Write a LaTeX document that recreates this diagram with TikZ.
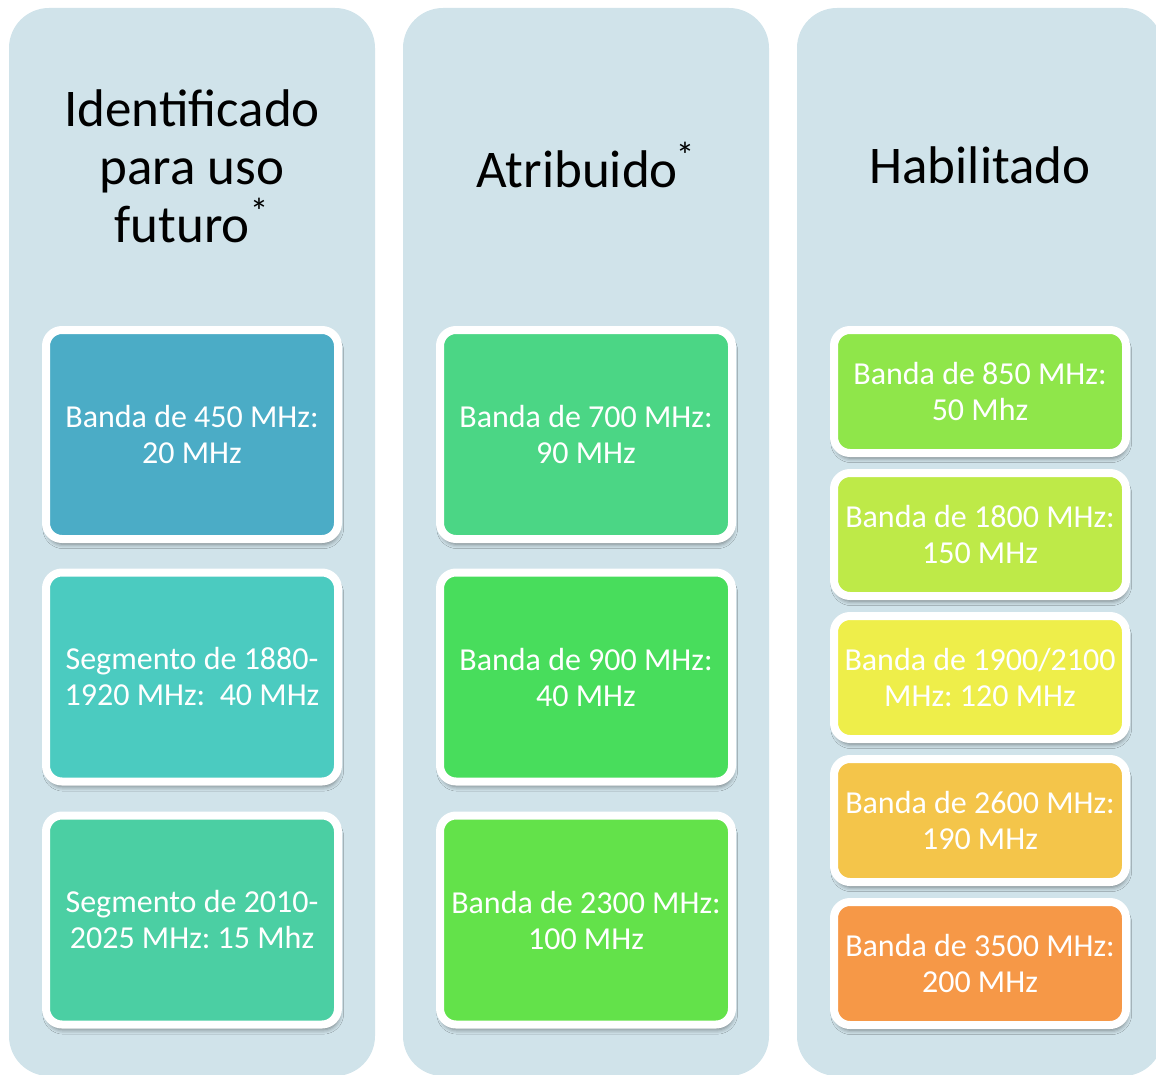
\documentclass[tikz,border=0pt]{standalone}
\usepackage{fontspec}
\setmainfont{Carlito}
\usetikzlibrary{shadows.blur}
\frenchspacing
\definecolor{colbg}{HTML}{D0E3EA}
\definecolor{cA}{HTML}{4BACC6}
\definecolor{cB}{HTML}{4BCBC0}
\definecolor{cC}{HTML}{4BCFA3}
\definecolor{cD}{HTML}{4BD685}
\definecolor{cE}{HTML}{48DD5C}
\definecolor{cF}{HTML}{63E24A}
\definecolor{cG}{HTML}{8FE64A}
\definecolor{cH}{HTML}{BEEA48}
\definecolor{cI}{HTML}{EEEE4A}
\definecolor{cJ}{HTML}{F4C54A}
\definecolor{cK}{HTML}{F69847}
\tikzset{
  column/.style={fill=colbg, rounded corners=20pt},
  coltitle/.style={font=\fontsize{26.5}{29}\selectfont, text=black, align=center, inner sep=0pt},
  band/.style={draw=white, line width=4pt, rounded corners=8pt, inner sep=0pt, outer sep=0pt,
    minimum width=146pt, text=white, align=center, font=\fontsize{16}{18}\selectfont,
    blur shadow={shadow xshift=0.6pt, shadow yshift=-2.6pt, shadow blur radius=2.2pt, shadow opacity=45}},
  bigband/.style={band, minimum height=104.5pt},
  smallband/.style={band, minimum height=61.5pt},
}
\begin{document}
\begin{tikzpicture}[x=0.5pt, y=-0.5pt]
\useasboundingbox (0,0) rectangle (1156,1075);
% columns
\fill[column] (9,8) rectangle (375,1076);
\fill[column] (403,8) rectangle (769,1076);
\fill[column] (797,8) rectangle (1163,1076);
% titles
\node[coltitle] (t1) at (192,166) {Identificado\\para uso\\futuro\textsuperscript{*}};
\node[coltitle] (t2) at (586,165) {Atribuido\kern-1pt\textsuperscript{*}};
\node[coltitle] (t3) at (980,165) {Habilitado};
% column 1
\node[bigband, fill=cA] (a1) at (192,434.5) {Banda de 450 MHz:\\20 MHz};
\node[bigband, fill=cB] (a2) at (192,677) {Segmento de 1880-\\1920 MHz:\ \ 40 MHz};
\node[bigband, fill=cC] (a3) at (192,920) {Segmento de 2010-\\2025 MHz: 15 Mhz};
% column 2
\node[bigband, fill=cD] (b1) at (586,434.5) {Banda de 700 MHz:\\90 MHz};
\node[bigband, fill=cE] (b2) at (586,677) {Banda de 900 MHz:\\40 MHz};
\node[bigband, fill=cF] (b3) at (586,920) {Banda de 2300 MHz:\\100 MHz};
% column 3
\node[smallband, fill=cG] (c1) at (980,391.5) {Banda de 850 MHz:\\50 Mhz};
\node[smallband, fill=cH] (c2) at (980,534.5) {Banda de 1800 MHz:\\150 MHz};
\node[smallband, fill=cI] (c3) at (980,677.5) {Banda de 1900/2100\\MHz: 120 MHz};
\node[smallband, fill=cJ] (c4) at (980,820.5) {Banda de 2600 MHz:\\190 MHz};
\node[smallband, fill=cK] (c5) at (980,963.5) {Banda de 3500 MHz:\\200 MHz};
\end{tikzpicture}
\end{document}
